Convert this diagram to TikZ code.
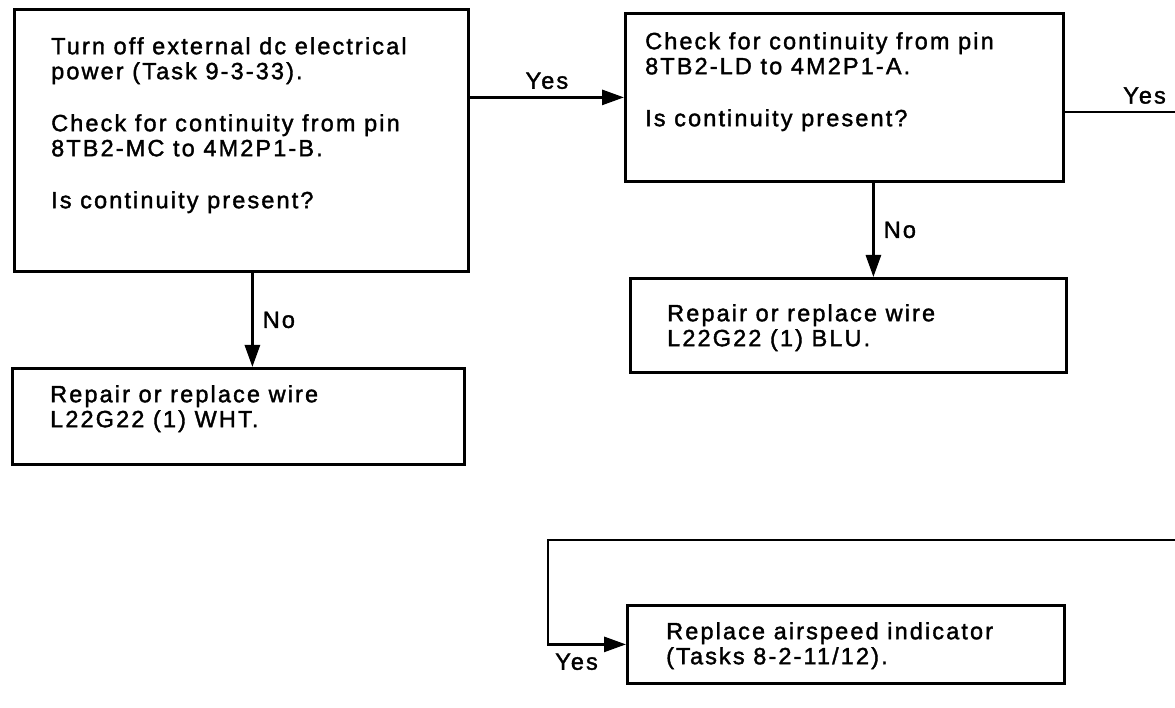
\documentclass[tikz,border=0pt]{standalone}
\usepackage{fontspec}
\setmainfont[LetterSpace=9, FakeBold=1.6]{Liberation Sans}
\usetikzlibrary{arrows.meta}

\tikzset{
  box/.style={draw, line width=2.8pt, inner sep=0pt, anchor=north west},
  txt/.style={anchor=north west, align=left, inner sep=0pt, font=\fontsize{23.5}{25}\selectfont},
  lbl/.style={inner sep=0pt, font=\fontsize{23.5}{25}\selectfont},
  conn/.style={line width=2.8pt, -{Triangle[length=22pt,width=15pt]}},
  wire/.style={line width=2.8pt}
}

\begin{document}
\begin{tikzpicture}[x=1pt, y=-1pt]
  \useasboundingbox (0,0) rectangle (1175,708);

  % first check
  \node[box, minimum width=454pt, minimum height=262pt] (chkmc) at (13,8) {};
  \node[txt] (chkmctxt) at (51,37) {Turn off external dc electrical\\
    power (Task 9-3-33).\\[27pt]
    Check for continuity from pin\\
    8TB2-MC to 4M2P1-B.\\[27pt]
    Is continuity present?};

  % second check
  \node[box, minimum width=438pt, minimum height=168pt] (chkld) at (624,12) {};
  \node[txt] (chkldtxt) at (645,32) {Check for continuity from pin\\
    8TB2-LD to 4M2P1-A.\\[27pt]
    Is continuity present?};

  % repair boxes
  \node[box, minimum width=452pt, minimum height=96pt] (wirewht) at (11,367) {};
  \node[txt] (wirewhttxt) at (50,385) {Repair or replace wire\\ L22G22 (1) WHT.};

  \node[box, minimum width=436pt, minimum height=94pt] (wireblu) at (629,277) {};
  \node[txt] (wirebludtxt) at (667,304) {Repair or replace wire\\ L22G22 (1) BLU.};

  % replace indicator
  \node[box, minimum width=437pt, minimum height=78pt] (airspd) at (626,604) {};
  \node[txt] (airspdtxt) at (666,622) {Replace airspeed indicator\\ (Tasks 8-2-11/12).};

  % connectors
  \draw[conn] (chkmc.east |- chkld.west) -- node[lbl, above=7pt] (yesone) {Yes} (chkld.west);
  \coordinate (outyes) at (1175,112);
  \draw[wire] (chkld.east |- outyes) -- (outyes);
  \node[lbl, anchor=south east] (yestwo) at ([shift={(-9,-8)}]outyes) {Yes};

  \draw[conn] ([xshift=11pt]chkmc.south) -- node[lbl, right=9pt] (noone) {No} ([xshift=11pt]chkmc.south |- wirewht.north);
  \draw[conn] ([xshift=29pt]chkld.south) -- node[lbl, right=9pt] (notwo) {No} ([xshift=29pt]chkld.south |- wireblu.north);

  \coordinate (loopin) at (1175,540);
  \coordinate (loopleft) at (548,540);
  \draw[conn] (loopin) -- (loopleft) |- (airspd.west);
  \node[lbl, anchor=north east] (yesthree) at ([shift={(-28,9)}]airspd.west) {Yes};
\end{tikzpicture}
\end{document}
